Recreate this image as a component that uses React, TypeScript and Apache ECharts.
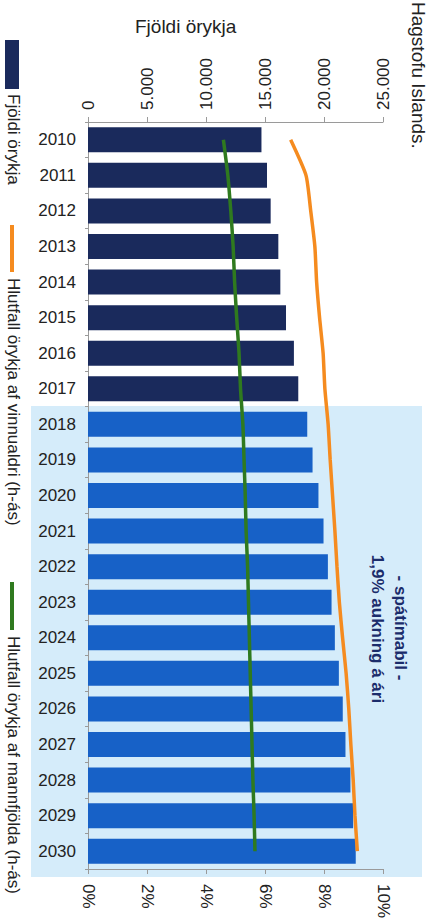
import React, { useEffect, useRef } from "react";
import * as echarts from "echarts";

// ---- Data ----
const years = [
  "2010", "2011", "2012", "2013", "2014", "2015", "2016", "2017", "2018", "2019",
  "2020", "2021", "2022", "2023", "2024", "2025", "2026", "2027", "2028", "2029", "2030",
];
const disabledCount = [
  14700, 15170, 15480, 16130, 16300, 16780, 17450, 17820, 18580, 19030,
  19530, 19960, 20330, 20640, 20920, 21260, 21590, 21820, 22240, 22470, 22690,
];
const shareOfWorkingAge = [
  6.87, 7.39, 7.55, 7.69, 7.75, 7.85, 7.97, 8.03, 8.14, 8.21,
  8.29, 8.37, 8.44, 8.52, 8.63, 8.75, 8.84, 8.91, 8.99, 9.05, 9.13,
];
const shareOfPopulation = [
  4.59, 4.74, 4.84, 4.92, 4.97, 5.04, 5.12, 5.17, 5.25, 5.29,
  5.33, 5.36, 5.41, 5.44, 5.47, 5.50, 5.53, 5.56, 5.59, 5.63, 5.66,
];
const forecastStartYear = "2018";
const countTickMax = 25000;
const countTickStep = 5000;
const pctTickMax = 10;
const pctTickStep = 2;

const countAxisTitle = "Fjöldi örykja";
const legendNames = [
  "Fjöldi örykja",
  "Hlutfall örykja af vinnualdri (h-ás)",
  "Hlutfall örykja af mannfjölda (h-ás)",
];
const sourceText = "Hagstofu Islands.";
const forecastLabel = "- spátímabil -";
const growthLabel = "1,9% aukning á ári";

const NAVY = "#1a2a5c";
const BLUE = "#1761c7";
const ORANGE = "#f58b1f";
const GREEN = "#2f7a1f";
const SHADE = "#d5ecfa";
const FONT = "'Liberation Sans', Arial, sans-serif";

function thousands(v: number): string {
  return String(v).replace(/\B(?=(\d{3})+(?!\d))/g, ".");
}

export default function App() {
  const ref = useRef<HTMLDivElement>(null);

  useEffect(() => {
    if (!ref.current) return;
    const chart = echarts.init(ref.current, null, { renderer: "svg" });
    const forecastIdx = years.indexOf(forecastStartYear);

    const rot = -Math.PI / 2;
    const textStyle = (text: string, size: number, extra: any = {}) => ({
      text,
      fontSize: size,
      fontFamily: FONT,
      fill: "#222",
      align: "left",
      verticalAlign: "middle",
      ...extra,
    });

    chart.setOption({
      animation: false,
      backgroundColor: "#ffffff",
      textStyle: { fontFamily: FONT },
      title: {
        text: countAxisTitle,
        left: 130,
        top: 12,
        textStyle: { fontSize: 19, fontWeight: "normal", color: "#222", fontFamily: FONT },
      },
      grid: { left: 88, right: 47, top: 122, bottom: 53, containLabel: false },
      xAxis: [
        {
          type: "value",
          position: "top",
          min: 0,
          max: countTickMax,
          interval: countTickStep,
          axisLine: { show: true, lineStyle: { color: "#9a9a9a", width: 1 } },
          axisTick: { show: true, length: 5, lineStyle: { color: "#9a9a9a" } },
          splitLine: { show: false },
          axisLabel: {
            rotate: -90,
            margin: 12,
            fontSize: 17,
            color: "#222",
            fontFamily: FONT,
            formatter: (v: number) => thousands(v),
          },
        },
        {
          type: "value",
          position: "bottom",
          min: 0,
          max: pctTickMax,
          interval: pctTickStep,
          axisLine: { show: true, lineStyle: { color: "#9a9a9a", width: 1 } },
          axisTick: { show: true, length: 5, lineStyle: { color: "#9a9a9a" } },
          splitLine: { show: false },
          axisLabel: {
            rotate: -90,
            margin: 15,
            fontSize: 17,
            color: "#222",
            fontFamily: FONT,
            formatter: "{value}%",
          },
        },
      ],
      yAxis: {
        type: "category",
        inverse: true,
        data: years,
        axisLine: { show: true, lineStyle: { color: "#9a9a9a", width: 1 } },
        axisTick: { show: true, length: 3, lineStyle: { color: "#9a9a9a" } },
        axisLabel: { fontSize: 17, color: "#222", margin: 12, fontFamily: FONT },
      },
      series: [
        {
          name: legendNames[0],
          type: "bar",
          xAxisIndex: 0,
          barWidth: 25,
          data: disabledCount.map((v, i) => ({
            value: v,
            itemStyle: { color: i >= forecastIdx ? BLUE : NAVY },
          })),
          z: 2,
        },
        {
          name: legendNames[1],
          type: "line",
          xAxisIndex: 1,
          data: shareOfWorkingAge,
          symbol: "none",
          smooth: 0.2,
          lineStyle: { color: ORANGE, width: 3.5 },
          z: 3,
        },
        {
          name: legendNames[2],
          type: "line",
          xAxisIndex: 1,
          data: shareOfPopulation,
          symbol: "none",
          smooth: 0.2,
          lineStyle: { color: GREEN, width: 3.5 },
          z: 3,
        },
      ],
      graphic: {
        elements: [
          {
            type: "rect",
            z: -10,
            silent: true,
            shape: { x: 31, y: 406, width: 391, height: 471 },
            style: { fill: SHADE },
          },
          // legend (rotated)
          { type: "rect", shape: { x: 5, y: 40, width: 14, height: 49 }, style: { fill: NAVY } },
          { type: "text", x: 13, y: 94, rotation: rot, style: textStyle(legendNames[0], 17) },
          {
            type: "line",
            shape: { x1: 12, y1: 225, x2: 12, y2: 272 },
            style: { stroke: ORANGE, lineWidth: 4 },
          },
          { type: "text", x: 13, y: 278, rotation: rot, style: textStyle(legendNames[1], 17) },
          {
            type: "line",
            shape: { x1: 12, y1: 582, x2: 12, y2: 630 },
            style: { stroke: GREEN, lineWidth: 4 },
          },
          { type: "text", x: 13, y: 636, rotation: rot, style: textStyle(legendNames[2], 17) },
          // source text
          { type: "text", x: 418, y: 2, rotation: rot, style: textStyle(sourceText, 19) },
          // forecast annotations
          {
            type: "text",
            x: 400,
            y: 628,
            rotation: rot,
            style: textStyle(forecastLabel, 17, { align: "center", fontWeight: "bold", fill: "#1b2c6b" }),
          },
          {
            type: "text",
            x: 377,
            y: 629,
            rotation: rot,
            style: textStyle(growthLabel, 17, { align: "center", fontWeight: "bold", fill: "#1b2c6b" }),
          },
        ],
      },
    });

    return () => chart.dispose();
  }, []);

  return (
    <div
      ref={ref}
      style={{ position: "absolute", left: 0, top: 0, width: 430, height: 922, background: "#fff" }}
    />
  );
}
